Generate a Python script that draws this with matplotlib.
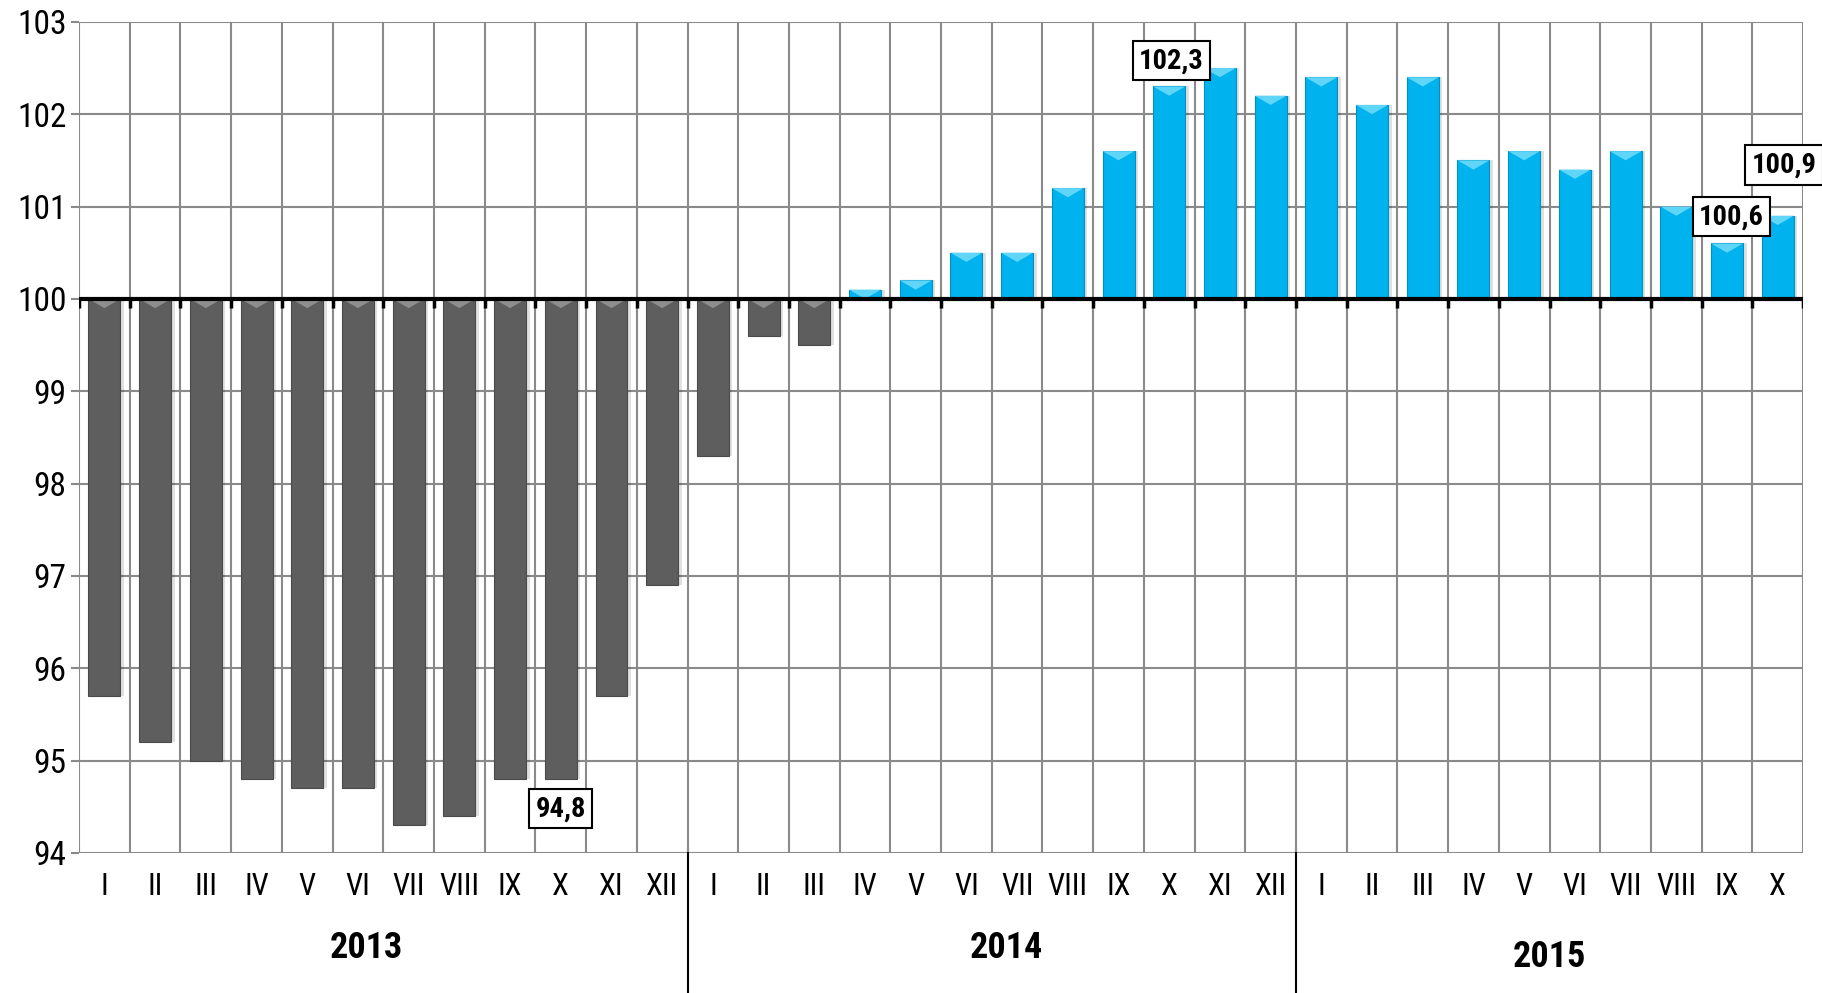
import matplotlib
matplotlib.use("Agg")
import matplotlib.pyplot as plt
from matplotlib import font_manager
from matplotlib.transforms import blended_transform_factory
from matplotlib.patches import Polygon
import numpy as np

months = ["I", "II", "III", "IV", "V", "VI", "VII", "VIII", "IX", "X", "XI", "XII",
          "I", "II", "III", "IV", "V", "VI", "VII", "VIII", "IX", "X", "XI", "XII",
          "I", "II", "III", "IV", "V", "VI", "VII", "VIII", "IX", "X"]
values_2013 = [95.7, 95.2, 95.0, 94.8, 94.7, 94.7, 94.3, 94.4, 94.8, 94.8, 95.7, 96.9]
values_2014 = [98.3, 99.6, 99.5, 100.1, 100.2, 100.5, 100.5, 101.2, 101.6, 102.3, 102.5, 102.2]
values_2015 = [102.4, 102.1, 102.4, 101.5, 101.6, 101.4, 101.6, 101.0, 100.6, 100.9]
years = ["2013", "2014", "2015"]
baseline = 100
annotations = [(9, "94,8"), (21, "102,3"), (32, "100,6"), (33, "100,9")]

# pick a condensed font if one is installed
fonts = font_manager.fontManager.ttflist
names = {f.name for f in fonts}
condensed = False
family = None
for cand in ["Liberation Sans Narrow", "Arial Narrow", "Roboto Condensed",
             "Open Sans Condensed", "Noto Sans Condensed"]:
    if cand in names:
        family = cand
        break
if family is None:
    for f in fonts:
        if f.name == "DejaVu Sans" and "Condensed" in f.fname:
            family = "DejaVu Sans"
            condensed = True
            break
if family is None:
    family = "Liberation Sans"
plt.rcParams['font.family'] = [family, 'Liberation Sans', 'DejaVu Sans']
if condensed:
    plt.rcParams['font.stretch'] = 'condensed'

values = np.array(values_2013 + values_2014 + values_2015)
x = np.arange(len(values))

fig = plt.figure(figsize=(18.22, 9.93), dpi=100)
ax = fig.add_axes([0.0434, 0.141, 0.9462, 0.837])

blue = "#00b2ee"
blue_light = "#5fd6f8"
gray = "#5e5e5e"
gray_light = "#8e8e8e"
colors = [blue if v >= baseline else gray for v in values]
lights = [blue_light if v >= baseline else gray_light for v in values]

w = 0.63
heights = values - baseline
# soft shadow
ax.bar(x + 0.07, heights, width=w, bottom=baseline, color="#000000", alpha=0.12,
       zorder=2, linewidth=0)
ax.bar(x, heights, width=w, bottom=baseline, color=colors,
       edgecolor=["#0090c4" if v >= baseline else "#4a4a4a" for v in values],
       linewidth=0.8, zorder=3)
# bevel highlight at the upper end of each bar
for xi, v, lc in zip(x, values, lights):
    top = max(v, baseline)
    h = min(0.1, abs(v - baseline))
    tri = Polygon([[xi - w / 2, top], [xi + w / 2, top], [xi, top - h]],
                  closed=True, facecolor=lc, edgecolor="none", zorder=4)
    ax.add_patch(tri)

ax.set_xlim(-0.5, len(values) - 0.5)
ax.set_ylim(94, 103)
ax.set_yticks(np.arange(94, 104, 1))
ax.set_yticklabels([str(v) for v in range(94, 104)])
ax.set_xticks(x)
ax.set_xticklabels(months)

# grid
for yv in np.arange(94, 104, 1):
    ax.axhline(yv, color="#8a8a8a", linewidth=1.5, zorder=1)
for xb in np.arange(-0.5, len(values), 1):
    ax.axvline(xb, color="#8a8a8a", linewidth=1.5, zorder=1)

# baseline axis with ticks
ax.axhline(baseline, color="black", linewidth=3, zorder=5)
ax.vlines(np.arange(-0.5, len(values), 1), baseline - 0.1, baseline, color="black",
          linewidth=2.5, zorder=5)

for s in ax.spines.values():
    s.set_visible(False)
ax.tick_params(axis='x', length=0, pad=14, labelsize=22)
ax.tick_params(axis='y', length=6, width=1.5, color="#8a8a8a", pad=3, labelsize=24)

# year labels and separators
tr = blended_transform_factory(ax.transData, fig.transFigure)
year_pos = [(5.16, 0.045), (17.78, 0.045), (28.5, 0.036)]
for yr, (xp, yp) in zip(years, year_pos):
    ax.text(xp, yp, yr, transform=tr, ha="center", va="center", fontsize=26,
            fontweight="bold")
trs = blended_transform_factory(ax.transData, ax.transAxes)
for xs in [11.5, 23.5]:
    ax.plot([xs, xs], [0, -0.3], color="black", linewidth=1.5, transform=trs,
            clip_on=False)

# annotation boxes
ann_pos = {9: (9.0, 94.48), 21: (21.04, 102.58), 32: (32.09, 100.89), 33: (33.12, 101.45)}
for idx, txt in annotations:
    xp, yp = ann_pos[idx]
    ax.text(xp, yp, txt, ha="center", va="center", fontsize=20.5, fontweight="bold",
            zorder=6, clip_on=False,
            bbox=dict(boxstyle="square,pad=0.22", facecolor="white",
                      edgecolor="black", linewidth=1.5))

fig.savefig("out.png", dpi=100)
